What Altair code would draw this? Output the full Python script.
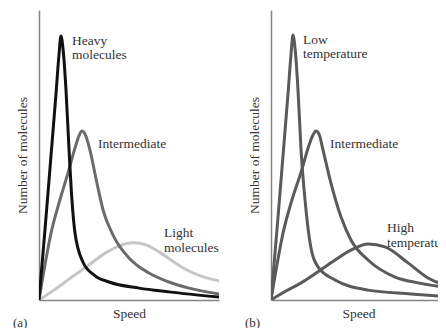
import altair as alt
import pandas as pd

# ---------------- Panel (a): molecular mass ----------------
heavy_speed = [0, 0.33, 0.67, 0.94, 1.11, 1.22, 1.33, 1.5, 1.67, 1.83, 2.0, 2.44, 3.06, 3.89, 5.56, 7.22, 10.0]
heavy_count = [0, 24.1, 50, 70.7, 84.5, 91, 86.9, 72.4, 51.7, 34.5, 23.1, 13.1, 8.6, 6.2, 4.1, 2.8, 1.0]

inter_a_speed = [0, 0.33, 0.67, 1.11, 1.61, 2.0, 2.22, 2.39, 2.56, 2.83, 3.22, 3.56, 4.17, 5.0, 6.11, 7.22, 8.33, 10.0]
inter_a_count = [0, 12.1, 23.1, 33.4, 43.8, 52.4, 56.6, 58.3, 57.2, 51.7, 40.3, 31.0, 21.7, 14.5, 9.3, 6.2, 4.1, 2.1]

light_speed = [0, 0.83, 1.67, 2.78, 3.61, 4.44, 5.22, 5.94, 6.67, 7.5, 8.33, 9.17, 10.0]
light_count = [0, 3.4, 7.2, 12.1, 15.9, 18.6, 19.7, 19.0, 16.6, 13.1, 10.0, 7.9, 6.6]

labels_a = ["Heavy\nmolecules", "Intermediate", "Light\nmolecules"]
labels_a_speed = [1.83, 3.28, 6.94]
labels_a_count = [88.0, 52.4, 21.7]

# ---------------- Panel (b): temperature ----------------
low_speed = [0, 0.33, 0.67, 0.94, 1.11, 1.22, 1.33, 1.5, 1.67, 1.89, 2.17, 2.61, 3.56, 5.39, 7.78, 10.0]
low_count = [0, 24.1, 50, 70.7, 84.5, 91.4, 87.2, 72.4, 51.7, 34.5, 19.7, 11.4, 6.9, 3.4, 2.1, 1.0]

inter_b_speed = [0, 0.33, 0.67, 1.11, 1.67, 2.11, 2.33, 2.5, 2.67, 2.89, 3.33, 3.89, 4.44, 5.39, 6.89, 8.17, 10.0]
inter_b_count = [0, 12.1, 23.1, 33.4, 44.1, 53.4, 56.9, 58.3, 57.2, 51.7, 40.3, 28.6, 20.7, 13.8, 7.9, 5.9, 4.1]

high_speed = [0, 0.83, 1.67, 2.67, 3.56, 4.44, 5.39, 6.33, 7.61, 8.72, 10.0]
high_count = [0, 3.1, 5.9, 10.0, 13.8, 17.2, 19.3, 18.3, 12.8, 7.6, 4.5]

labels_b = ["Low\ntemperature", "Intermediate", "High\ntemperature"]
labels_b_speed = [1.78, 3.28, 6.44]
labels_b_count = [88.3, 52.4, 23.4]

FONT = "Liberation Serif"
TEXT_COLOR = "#333333"


def panel(series, lab, lab_x, lab_y, x_max, width, tag):
    x_enc = alt.X("Speed:Q", scale=alt.Scale(domain=[0, x_max], nice=False, zero=True),
                  axis=alt.Axis(title="Speed"))
    y_enc = alt.Y("Count:Q", scale=alt.Scale(domain=[0, 100], nice=False),
                  axis=alt.Axis(title="Number of molecules"))
    layers = []
    for sp, ct, color in series:
        df = pd.DataFrame({"Speed": sp, "Count": ct})
        layers.append(
            alt.Chart(df).mark_line(interpolate="monotone", strokeWidth=3, color=color,
                                    clip=True, strokeJoin="round")
            .encode(x=x_enc, y=y_enc)
        )
    tdf = pd.DataFrame({"Speed": lab_x, "Count": lab_y, "Label": lab})
    layers.append(
        alt.Chart(tdf).mark_text(align="left", baseline="alphabetic", font=FONT, fontSize=13.5,
                                 color=TEXT_COLOR, lineBreak="\n", lineHeight=14.5, clip=True)
        .encode(x=x_enc, y=y_enc, text="Label:N")
    )
    return alt.layer(*layers).properties(
        width=width, height=290,
        title=alt.TitleParams(tag, orient="bottom", anchor="start", frame="bounds",
                              font=FONT, fontSize=13, fontWeight="normal",
                              color=TEXT_COLOR, offset=-3, dx=-2),
    )


panel_a = panel(
    [(light_speed, light_count, "#c6c6c6"),
     (inter_a_speed, inter_a_count, "#6b6b6b"),
     (heavy_speed, heavy_count, "#111111")],
    labels_a, labels_a_speed, labels_a_count, 10.0, 180, "(a)")

panel_b = panel(
    [(high_speed, high_count, "#5a5a5a"),
     (inter_b_speed, inter_b_count, "#5a5a5a"),
     (low_speed, low_count, "#5a5a5a")],
    labels_b, labels_b_speed, labels_b_count, 9.72, 175, "(b)")

chart = (
    alt.hconcat(panel_a, panel_b, spacing=26)
    .properties(padding={"left": 5, "top": 2, "right": -8, "bottom": -2})
    .configure_view(stroke=None)
    .configure_axis(labels=False, ticks=False, grid=False, domainColor="#858585",
                    domainWidth=1.5, titleFont=FONT, titleFontSize=13.5,
                    titleFontWeight="normal", titleColor=TEXT_COLOR)
    .configure_axisLeft(titlePadding=10)
    .configure_axisBottom(titlePadding=6)
)

chart.save("out.html", embed_options={"renderer": "svg", "actions": False})
